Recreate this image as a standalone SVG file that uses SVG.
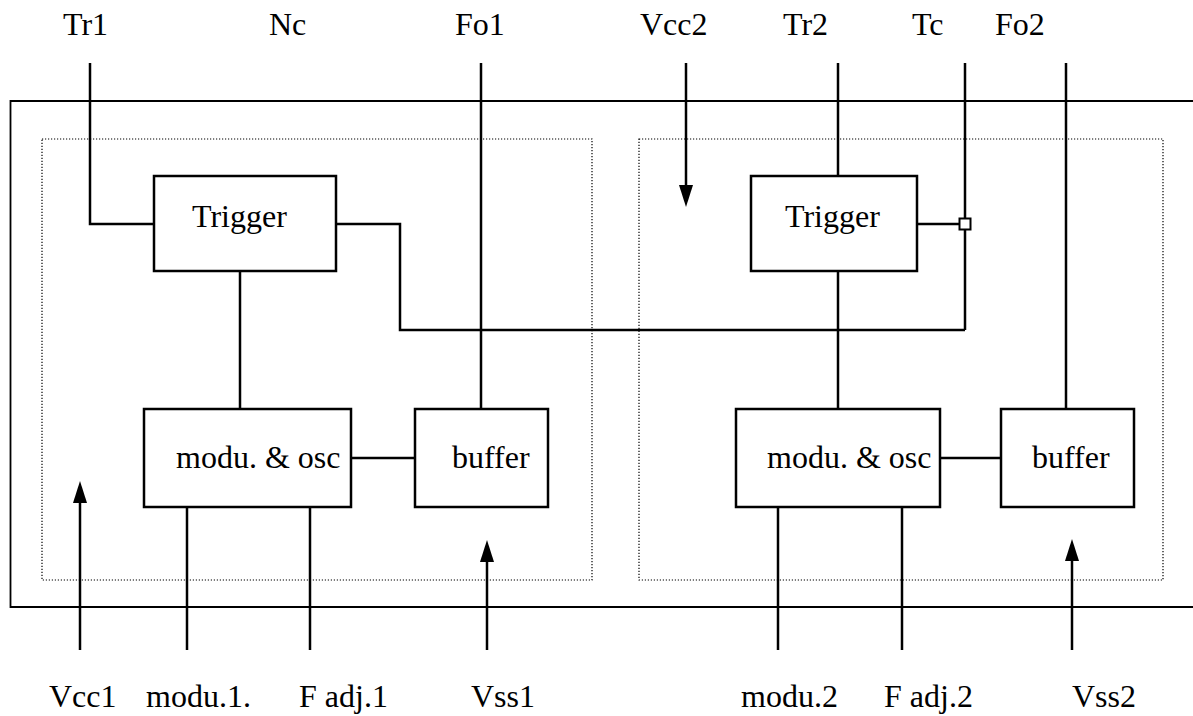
<svg xmlns="http://www.w3.org/2000/svg" width="1193" height="716" viewBox="0 0 1193 716">
<style>
.w{stroke:#000;stroke-width:2.5;fill:none}
.box{stroke:#000;stroke-width:2.5;fill:#fff}
.outer{stroke:#000;stroke-width:1.8;fill:none}
.dot{stroke:#000;stroke-width:1.2;fill:none;stroke-dasharray:1.2 1.8}
</style>
<defs>
<path id="up" d="M0,0 L7,22 L-7,22 Z" fill="#000"/>
<path id="down" d="M0,0 L7,-22 L-7,-22 Z" fill="#000"/>
</defs>
<g id="frame">
<path class="outer" d="M1193,101 H10.5 V607 H1193"/>
<rect class="dot" x="42" y="139" width="550" height="441"/>
<rect class="dot" x="639" y="139" width="524" height="441"/>
</g>
<g id="connectors">
<path class="w" d="M90,63 V224 H154"/>
<path class="w" d="M336,224 H400 V330 H965"/>
<path class="w" d="M965,63 V330"/>
<path class="w" d="M917,224 H960"/>
<path class="w" d="M481,63 V409"/>
<path class="w" d="M1066,63 V409"/>
<path class="w" d="M838,63 V176"/>
<path class="w" d="M838,271 V409"/>
<path class="w" d="M240,271 V409"/>
<path class="w" d="M351,458 H415"/>
<path class="w" d="M940,458 H1001"/>
<path class="w" d="M187,507 V650"/>
<path class="w" d="M310,507 V650"/>
<path class="w" d="M778,507 V650"/>
<path class="w" d="M902,507 V650"/>
<path class="w" d="M80,650 V500"/>
<use href="#up" x="80" y="481"/>
<path class="w" d="M487,650 V559"/>
<use href="#up" x="487" y="540"/>
<path class="w" d="M1072,650 V558"/>
<use href="#up" x="1072" y="539"/>
<path class="w" d="M686,63 V188"/>
<use href="#down" x="686" y="207"/>
<rect x="959.5" y="218.5" width="11" height="11" fill="#fff" stroke="#000" stroke-width="2"/>
</g>
<g font-family="'Liberation Serif', 'Times New Roman', serif" font-size="32" fill="#000">
<g id="trigger1"><rect class="box" x="154" y="176" width="182" height="95"/><text x="192" y="227">Trigger</text></g>
<g id="trigger2"><rect class="box" x="751" y="176" width="166" height="95"/><text x="785" y="227">Trigger</text></g>
<g id="mod1"><rect class="box" x="144" y="409" width="207" height="98"/><text x="176" y="468">modu. &amp; osc</text></g>
<g id="buffer1"><rect class="box" x="415" y="409" width="133" height="98"/><text x="452" y="468">buffer</text></g>
<g id="mod2"><rect class="box" x="736" y="409" width="204" height="98"/><text x="767" y="468">modu. &amp; osc</text></g>
<g id="buffer2"><rect class="box" x="1001" y="409" width="133" height="98"/><text x="1032" y="468">buffer</text></g>
<g id="labels">
<text x="63" y="35">Tr1</text>
<text x="269" y="35">Nc</text>
<text x="455" y="35">Fo1</text>
<text x="640" y="35">Vcc2</text>
<text x="783" y="35">Tr2</text>
<text x="912" y="35">Tc</text>
<text x="995" y="35">Fo2</text>
<text x="49" y="707">Vcc1</text>
<text x="146" y="707">modu.1.</text>
<text x="299" y="707">F adj.1</text>
<text x="471" y="707">Vss1</text>
<text x="741" y="707">modu.2</text>
<text x="884" y="707">F adj.2</text>
<text x="1072" y="707">Vss2</text>
</g>
</g>
</svg>
